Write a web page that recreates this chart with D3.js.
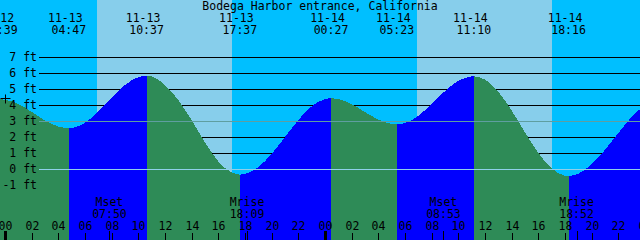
<!DOCTYPE html>
<html>
<head>
<meta charset="utf-8">
<script src="https://cdn.jsdelivr.net/npm/d3@7"></script>
<style>
    body { margin: 0; background: #00bfff; }
    svg { display: block; }
    text { font-family: "DejaVu Sans Mono", monospace; font-size: 11.5px; fill: #000; }
</style>
</head>
<body>
<div id="chart"></div>
<script>

// tide curve, hours counted from 11-13 00:00
const hours = [-0.5, 0, 1, 2, 3, 4, 5, 6, 7, 8, 9, 10, 11, 12, 13, 14, 15, 16, 17, 18, 19, 20, 21, 22, 23,
    24, 25, 26, 27, 28, 29, 30, 31, 32, 33, 34, 35, 36, 37, 38, 39, 40, 41, 42, 43, 44, 45, 46, 47, 48];
const levels = [4.34, 4.33, 4.06, 3.57, 3.03, 2.65, 2.56, 2.89, 3.59, 4.45, 5.25, 5.74, 5.78, 5.25, 4.30, 3.05, 1.65, 0.47, -0.22, -0.31, 0.12, 0.94, 2.00, 3.06, 3.91,
    4.37, 4.37, 4.05, 3.56, 3.09, 2.81, 2.87, 3.33, 4.07, 4.87, 5.51, 5.79, 5.59, 4.83, 3.65, 2.29, 1.00, 0.04, -0.42, -0.30, 0.30, 1.20, 2.25, 3.25, 4.00];

// high and low tides
const eventDates = ['11-12', '11-13', '11-13', '11-13', '11-14', '11-14', '11-14', '11-14'];
const eventTimes = ['23:39', '04:47', '10:37', '17:37', '00:27', '05:23', '11:10', '18:16'];
const eventLevels = [4.35, 2.55, 5.83, -0.35, 4.42, 2.79, 5.80, -0.44];

// daylight
const sunDates = ['11-13', '11-14'];
const sunrise = ['06:54', '06:54'];
const sunset = ['17:02', '17:02'];

// moon
const moonDates = ['11-13', '11-13', '11-14', '11-14'];
const moonTimes = ['07:50', '18:09', '08:53', '18:52'];
const moonNames = ['Mset', 'Mrise', 'Mset', 'Mrise'];

// current time mark
const markHours = [0];
const markLevels = [4.42];

const levelTicks = [-1, 0, 1, 2, 3, 4, 5, 6, 7];
const hourTicks = [0, 2, 4, 6, 8, 10, 12, 14, 16, 18, 20, 22, 24, 26, 28, 30, 32, 34, 36, 38, 40, 42, 44, 46, 48];
const datumLevel = 0;
const mslLevel = 3;

const title = 'Bodega Harbor entrance, California';

const width = 640, height = 240;

// date 'mm-dd' + time 'hh:mm' -> hours since 11-13 00:00
function toHours(date, time) {
    let day = +date.split('-')[1] - 13;
    let hm = time.split(':');
    return day * 24 + (+hm[0]) + (+hm[1]) / 60;
}

const x = d3.scaleLinear().domain([0, 48]).range([5, 645]);
const y = d3.scaleLinear().domain([-1, 7]).range([185, 57]);

const svg = d3.select('#chart').append('svg')
    .attr('width', width)
    .attr('height', height);

// sky: night everywhere, day between sunrise and sunset
svg.append('rect')
    .attr('width', width)
    .attr('height', height)
    .attr('fill', '#00bfff');

svg.selectAll('.day')
    .data(sunDates)
    .enter()
    .append('rect')
    .attr('class', 'day')
    .attr('x', (d, i) => x(toHours(d, sunrise[i])))
    .attr('width', (d, i) => x(toHours(d, sunset[i])) - x(toHours(d, sunrise[i])))
    .attr('y', 0)
    .attr('height', height)
    .attr('fill', '#87ceeb')
    .attr('shape-rendering', 'crispEdges');

// depth grid (behind the water)
const gridAxis = d3.axisRight(y)
    .tickValues(levelTicks)
    .tickSize(width - 39)
    .tickFormat('');

svg.append('g')
    .attr('class', 'grid')
    .attr('transform', 'translate(39,0)')
    .call(gridAxis)
    .call(g => g.select('.domain').remove())
    .call(g => g.selectAll('line').attr('stroke', '#000'));

// tide curve, merged with the extremes
const eventHours = eventDates.map((d, i) => toHours(d, eventTimes[i]));
let series = hours.map((h, i) => ({t: h, v: levels[i]}))
    .concat(eventHours.map((h, i) => ({t: h, v: eventLevels[i]})));
series.sort((a, b) => a.t - b.t);

const area = d3.area()
    .x(d => x(d.t))
    .y0(height)
    .y1(d => y(d.v))
    .curve(d3.curveMonotoneX);

// rising water blue, falling water green
const bounds = [hours[0]].concat(eventHours, [hours[hours.length - 1]]);
const segments = [];
for (let i = 0; i < bounds.length - 1; i++) {
    let pts = series.filter(d => d.t >= bounds[i] && d.t <= bounds[i + 1]);
    let rising = pts[pts.length - 1].v > pts[0].v;
    segments.push({pts: pts, rising: rising});
}

svg.selectAll('.water')
    .data(segments)
    .enter()
    .append('path')
    .attr('class', 'water')
    .attr('d', d => area(d.pts))
    .attr('fill', d => d.rising ? '#0000ff' : '#2e8b57')
    .attr('shape-rendering', 'crispEdges');

// datum and mean sea level lines on top
svg.append('line')
    .attr('x1', 39).attr('x2', width)
    .attr('y1', y(datumLevel) + 0.5).attr('y2', y(datumLevel) + 0.5)
    .attr('stroke', '#8fd0ea');

svg.append('line')
    .attr('x1', 39).attr('x2', width)
    .attr('y1', y(mslLevel) + 0.5).attr('y2', y(mslLevel) + 0.5)
    .attr('stroke', '#5f9ea0');

// depth labels
svg.append('g')
    .attr('transform', 'translate(38,0)')
    .call(d3.axisLeft(y).tickValues(levelTicks).tickSize(0).tickPadding(1).tickFormat(d => d + ' ft'))
    .call(g => g.select('.domain').remove());

// mark
const mark = svg.selectAll('.mark')
    .data(markHours)
    .enter()
    .append('g')
    .attr('class', 'mark')
    .attr('transform', (d, i) => `translate(${Math.round(x(d)) + 0.5},${Math.round(y(markLevels[i])) + 0.5})`);
mark.append('line').attr('x1', -5).attr('x2', 5).attr('stroke', '#000');
mark.append('line').attr('y1', -4).attr('y2', 5).attr('stroke', '#000');

// title
svg.append('text')
    .attr('x', width / 2)
    .attr('y', 10)
    .attr('text-anchor', 'middle')
    .text(title);

// tide event labels
const events = svg.selectAll('.event')
    .data(eventHours)
    .enter()
    .append('g')
    .attr('class', 'event')
    .attr('transform', d => `translate(${x(d)},0)`);

events.append('text')
    .attr('x', -3.5)
    .attr('y', 21.5)
    .attr('text-anchor', 'middle')
    .text((d, i) => eventDates[i]);

events.append('text')
    .attr('y', 33.5)
    .attr('text-anchor', 'middle')
    .text((d, i) => eventTimes[i]);

// moon rise/set
const moonHours = moonDates.map((d, i) => toHours(d, moonTimes[i]));

const moon = svg.selectAll('.moon')
    .data(moonHours)
    .enter()
    .append('g')
    .attr('class', 'moon')
    .attr('transform', d => `translate(${x(d)},0)`);

moon.append('text')
    .attr('y', 205.5)
    .attr('text-anchor', 'middle')
    .text((d, i) => moonNames[i]);

moon.append('text')
    .attr('y', 217.5)
    .attr('text-anchor', 'middle')
    .text((d, i) => moonTimes[i]);

moon.append('line')
    .attr('x1', 0.5).attr('x2', 0.5)
    .attr('y1', 231).attr('y2', height)
    .attr('stroke', '#000')
    .attr('shape-rendering', 'crispEdges');

// hour axis along the bottom
const hourAxis = d3.axisTop(x.copy().interpolate(d3.interpolateRound))
    .tickValues(hourTicks)
    .tickSize(7)
    .tickPadding(3)
    .tickFormat(d => d3.format('02d')(d % 24));

svg.append('g')
    .attr('class', 'hour-axis')
    .attr('transform', `translate(0,${height})`)
    .call(hourAxis)
    .call(g => g.select('.domain').remove())
    .call(g => g.selectAll('.tick')
        .filter(d => d % 24 === 0)
        .select('line')
        .attr('stroke-width', 3)
        .attr('y2', -9));

</script>
</body>
</html>
